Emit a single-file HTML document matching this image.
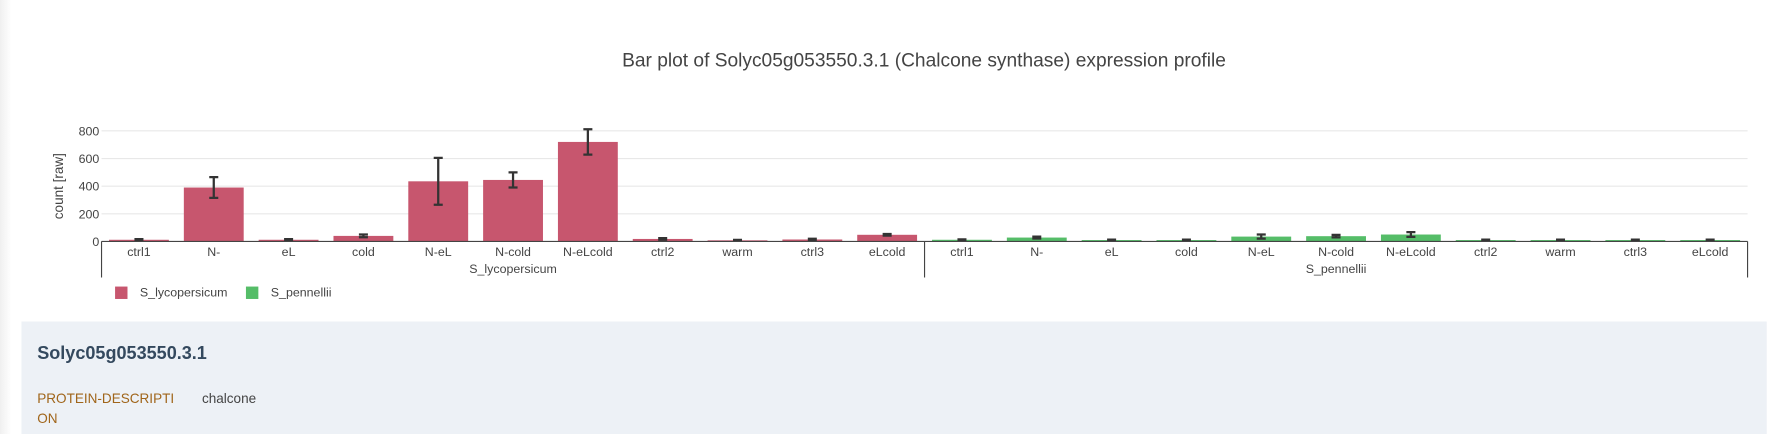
<!DOCTYPE html>
<html><head><meta charset="utf-8"><style>
body{margin:0;width:1769px;height:434px;overflow:hidden;background:#fff;font-family:"Liberation Sans",sans-serif;position:relative}
#wrap{position:absolute;left:0;top:0;width:1568px;height:385px;transform:scale(1.12819);transform-origin:0 0}
#edge{position:absolute;left:0;top:0;width:10px;height:385px;background:linear-gradient(to right,#f0f0f0,#fff)}
#info{position:absolute;left:19px;top:285px;width:1547px;height:100px;background:#edf1f6}
#info h3{position:absolute;left:14px;top:20px;margin:0;font-size:16px;color:#34495e;font-weight:bold}
.k{position:absolute;left:14px;top:59px;font-size:12px;color:#a0651a;line-height:18px;width:130px}
.v{position:absolute;left:160px;top:59px;font-size:12px;color:#444;line-height:18px}
</style></head><body>
<div id="wrap">
<div id="edge"></div>
<svg id="chart" width="1568" height="285" style="position:absolute;left:0;top:0"></svg>
<div id="info">
<h3>Solyc05g053550.3.1</h3>
<div class="k">PROTEIN-DESCRIPTI<br>ON</div>
<div class="v">chalcone</div>
</div>
</div>
<script>
const categories=["ctrl1","N-","eL","cold","N-eL","N-cold","N-eLcold","ctrl2","warm","ctrl3","eLcold"];
const groups=["S_lycopersicum","S_pennellii"];
const lycoValues=[12,390,12,40,435,445,720,18,8,14,48];
const lycoErr=[5,75,5,10,170,55,92,6,3,5,6];
const pennValues=[12,28,10,10,35,38,50,10,10,10,10];
const pennErr=[3,7,3,3,15,9,17,3,3,3,3];
const yTicks=[0,200,400,600,800];
const colors=["#c7566e","#55bd68"];
const NS="http://www.w3.org/2000/svg";
const svg=document.getElementById('chart');
const x0=90,x1=1549,y0=214,yMax=800,yTop=116;
const n=categories.length*2, step=(x1-x0)/n;
const Y=v=>y0-(v/yMax)*(y0-yTop);
const X=i=>x0+step*i;
function el(t,a,txt){const e=document.createElementNS(NS,t);for(const k in a)e.setAttribute(k,a[k]);if(txt!=null)e.textContent=txt;svg.appendChild(e);return e;}
let t=el('text',{x:819,y:59,'text-anchor':'middle','font-size':17,fill:'#444'},'Bar plot of Solyc05g053550.3.1 (Chalcone synthase) expression profile');


yTicks.forEach(v=>{
 if(v>0){const g=el('line',{x1:x0,x2:x1,y1:Y(v),y2:Y(v),stroke:'#e8e8e8'});
 
 }
 const l=el('text',{x:88,y:Y(v)+4,'text-anchor':'end','font-size':11,fill:'#444'},v);
 
 
});
t=el('text',{transform:'translate(56,165) rotate(-90)','text-anchor':'middle','font-size':12,fill:'#444'},'count [raw]');


[lycoValues,pennValues].forEach((vals,gi)=>{
 const errs=gi?pennErr:lycoErr;
 vals.forEach((v,i)=>{
  const idx=gi*categories.length+i, cx=X(idx)+step/2, w=step*0.8;
  const b=el('rect',{x:cx-w/2,y:Y(v),width:w,height:y0-Y(v),fill:colors[gi]});
  
  
  const e=errs[i];
  const p=el('path',{d:`M${cx},${Y(v+e)}V${Y(Math.max(0,v-e))}M${cx-4},${Y(v+e)}H${cx+4}M${cx-4},${Y(Math.max(0,v-e))}H${cx+4}`,stroke:'#333','stroke-width':2,fill:'none'});
  
  
  const l=el('text',{x:cx,y:227,'text-anchor':'middle','font-size':11,fill:'#444'},categories[i]);
  
  
 });
 const gx=X(gi*categories.length)+step*categories.length/2;
 const gl=el('text',{x:gx,y:242,'text-anchor':'middle','font-size':11,fill:'#444'},groups[gi]);
 
 
});
const ax=el('path',{d:`M${x0},${y0}H${x1}M${x0},${y0}V246M${X(categories.length)},${y0}V246M${x1},${y0}V246`,stroke:'#444','stroke-width':1,fill:'none'});


groups.forEach((g,i)=>{
 const lx=102+i*116;
 const r=el('rect',{x:lx,y:254,width:11,height:11,fill:colors[i]});
 
 
 const l=el('text',{x:lx+22,y:263,'font-size':11,fill:'#444'},g);
 
 
});
</script>
</body></html>
